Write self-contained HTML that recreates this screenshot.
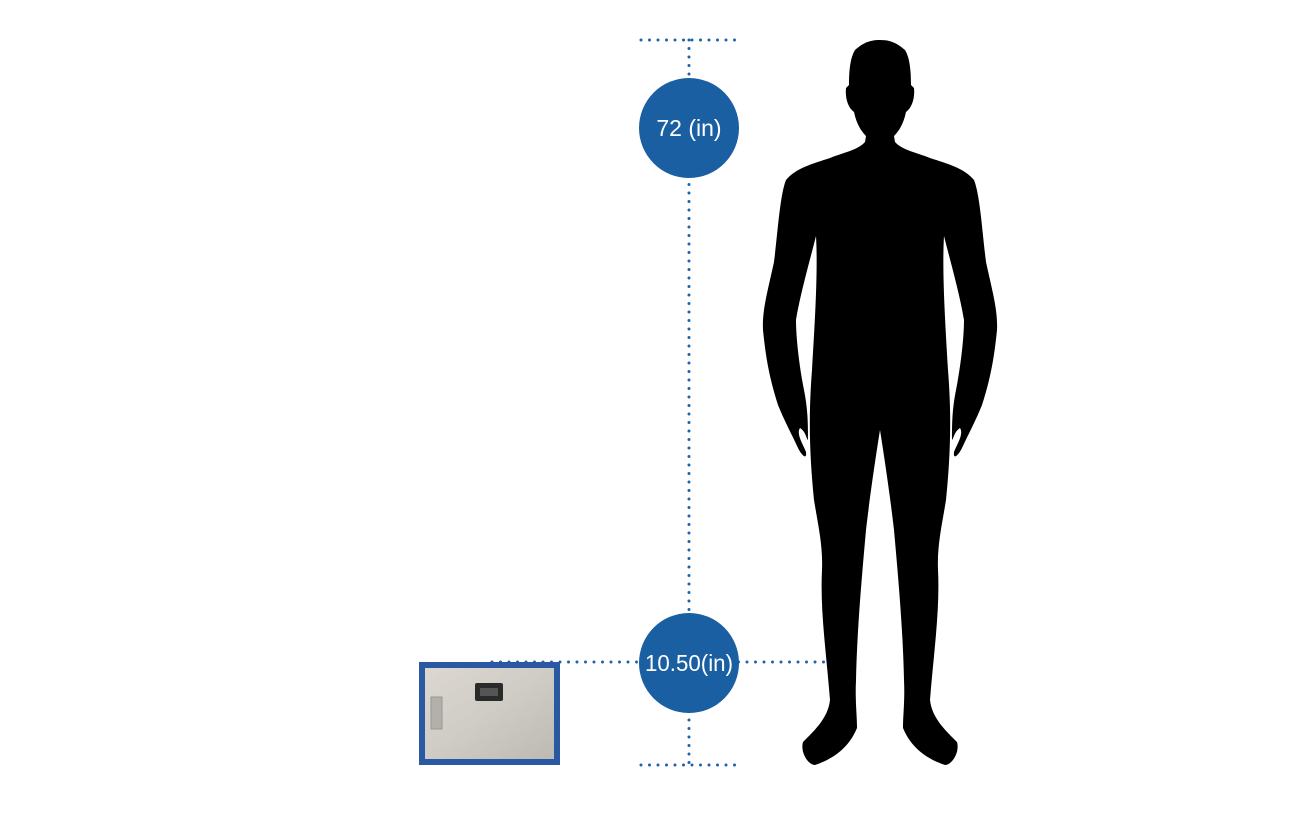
<!DOCTYPE html>
<html><head><style>body{margin:0;background:#fff}</style></head><body>
<svg width="1300" height="813" viewBox="0 0 1300 813" xmlns="http://www.w3.org/2000/svg">
<defs><linearGradient id="g" x1="0" y1="0" x2="1" y2="1"><stop offset="0" stop-color="#dcd8d1"/><stop offset="0.5" stop-color="#cfcbc5"/><stop offset="1" stop-color="#bdb9b3"/></linearGradient></defs>
<g stroke="#1e62aa" stroke-width="3" stroke-dasharray="0 8.5" stroke-linecap="round" fill="none">
<line x1="689" y1="40" x2="689" y2="765"/>
<line x1="641" y1="40" x2="740" y2="40"/>
<line x1="641" y1="765" x2="740" y2="765"/>
<line x1="492" y1="662" x2="828" y2="662"/>
</g>
<path fill="#000" d="M880,40 C868,40 862,44 855,50 C850,58 849,72 849,85 L846,88 C845,98 848,108 854,112 C856,122 860,130 866,136 L865,142 C858,150 845,152 830,158 C812,164 796,168 786,180 C780,195 778,230 774,262 C768,290 762,310 763,330 C766,360 770,380 778,405 C784,420 792,435 798,448 C802,456 807,460 806,452 C803,444 796,434 800,428 C806,432 806,438 808,440 C808,425 808,410 804,390 C800,370 796,340 796,320 C800,295 810,260 816,236 C818,270 815,320 812,370 C808,420 810,460 814,500 C818,525 823,545 822,570 C820,610 826,650 830,700 C828,718 815,730 803,742 C800,752 808,765 815,765 C830,760 848,750 857,728 C857,715 855,700 856,680 C857,630 862,575 866,530 C870,495 876,455 880,430 C884,455 890,495 894,530 C898,575 903,630 904,680 C905,700 903,715 903,728 C912,750 930,760 945,765 C952,765 960,752 957,742 C945,730 932,718 930,700 C934,650 940,610 938,570 C937,545 942,525 946,500 C950,460 952,420 948,370 C945,320 942,270 944,236 C950,260 960,295 964,320 C964,340 960,370 956,390 C952,410 952,425 952,440 C954,438 954,432 960,428 C964,434 957,444 954,452 C953,460 958,456 962,448 C968,435 976,420 982,405 C990,380 994,360 997,330 C998,310 992,290 986,262 C982,230 980,195 974,180 C964,168 948,164 930,158 C915,152 902,150 895,142 L894,136 C900,130 904,122 906,112 C912,108 915,98 914,88 L911,85 C911,72 910,58 905,50 C898,44 892,40 880,40 Z"/>
<circle cx="689" cy="128" r="50" fill="#1b5fa3"/>
<circle cx="689" cy="663" r="50" fill="#1b5fa3"/>
<text x="689" y="136" fill="#fff" font-family="Liberation Sans, sans-serif" font-size="23" text-anchor="middle">72 (in)</text>
<text x="689" y="671" fill="#fff" font-family="Liberation Sans, sans-serif" font-size="23" text-anchor="middle" textLength="88" lengthAdjust="spacingAndGlyphs">10.50(in)</text>
<rect x="419" y="662" width="141" height="103" fill="#2a58a3"/>
<rect x="425" y="668" width="129" height="91" fill="url(#g)"/>
<rect x="475" y="683" width="28" height="18" rx="2" fill="#2a2a2a"/>
<rect x="480" y="688" width="18" height="8" fill="#555"/>
<rect x="431" y="697" width="11" height="32" fill="#b3b0ab" stroke="#9a9792" stroke-width="1"/>
</svg>
</body></html>
